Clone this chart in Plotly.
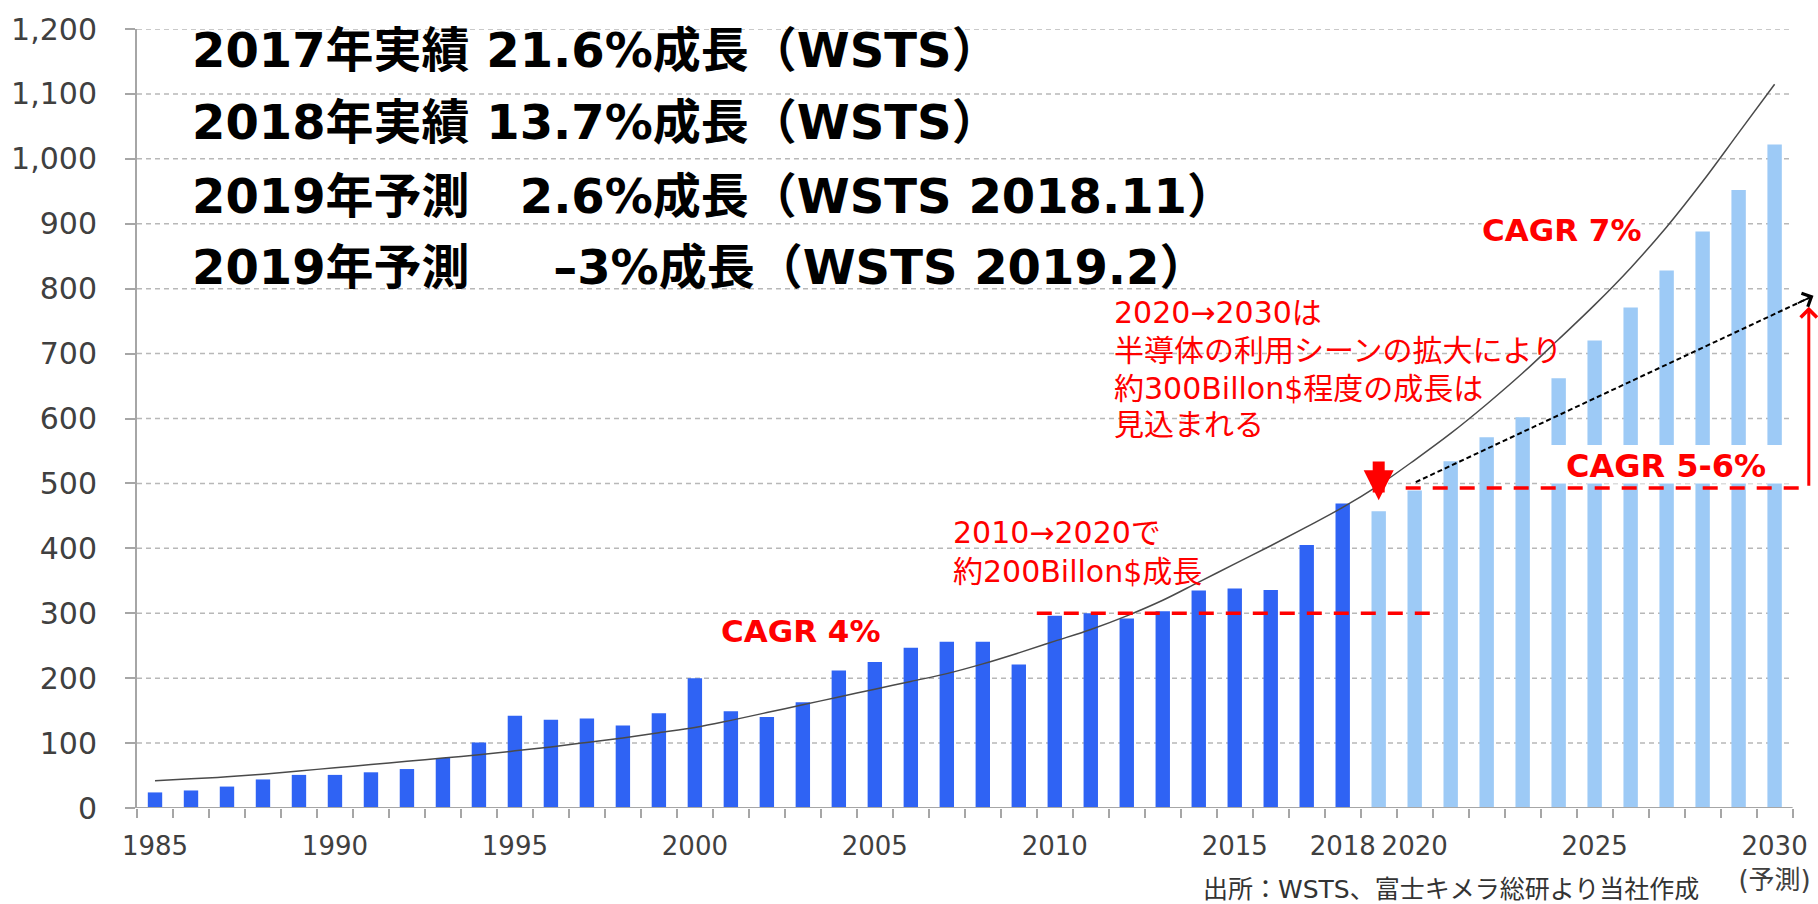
import plotly.graph_objects as go

# ---------------- data ----------------
actual_years = list(range(1985, 2019))
actual_values = [24, 27, 33, 44, 51, 51, 55, 60, 77, 101, 142, 136, 138, 127, 146,
                 200, 149, 140, 163, 212, 225, 247, 256, 256, 221, 296, 300, 292,
                 303, 335, 338, 336, 405, 469]

forecast_years = list(range(2019, 2031))
forecast_values = [457, 489, 534, 571, 602, 662, 720, 771, 828, 888, 952, 1022]

trend_years = list(range(1985, 2031))
trend_values = [42, 45, 48, 52, 57, 62, 67, 72, 77, 82, 88, 94, 101, 108, 116,
                124, 135, 147, 159, 171, 183, 195, 207, 222, 239, 257, 275, 296,
                320, 348, 376, 404, 433, 463, 497, 536, 577, 622, 670, 722, 775,
                832, 895, 965, 1040, 1115]

x_tick_years = [1985, 1990, 1995, 2000, 2005, 2010, 2015, 2018, 2020, 2025, 2030]
x_tick_labels = ["1985", "1990", "1995", "2000", "2005", "2010", "2015", "2018",
                 "2020", "2025", "2030<br>(予測)"]
y_tick_values = list(range(0, 1300, 100))

title_lines = [
    "2017年実績 21.6%成長（WSTS）",
    "2018年実績 13.7%成長（WSTS）",
    "2019年予測\u00a0\u00a0\u00a02.6%成長（WSTS 2018.11）",
    "2019年予測\u00a0\u00a0\u00a0\u00a0\u00a0–3%成長（WSTS 2019.2）",
]
note_2030 = ["2020→2030は", "半導体の利用シーンの拡大により", "約300Billon$程度の成長は", "見込まれる"]
note_2020 = ["2010→2020で", "約200Billon$成長"]
source_text = "出所：WSTS、富士キメラ総研より当社作成"

# ---------------- style ----------------
FONT = "DejaVu Sans, Noto Sans CJK JP, sans-serif"
RED = "#ff0000"
DARK_BLUE = "#2f63f4"
LIGHT_BLUE = "#9dcaf6"
GRID = "#b8b8b8"
AXIS = "#a6a6a6"

fig = go.Figure()
fig.add_trace(go.Bar(x=actual_years, y=actual_values, width=0.4,
                     marker=dict(color=DARK_BLUE, line=dict(width=0)), name="実績"))
fig.add_trace(go.Bar(x=forecast_years, y=forecast_values, width=0.4,
                     marker=dict(color=LIGHT_BLUE, line=dict(width=0)), name="予測"))
fig.add_trace(go.Scatter(x=trend_years, y=trend_values, mode="lines",
                         line=dict(color="#4a4a4a", width=1.5, shape="spline", smoothing=1.0),
                         name="trend"))

shapes = []
for v in y_tick_values[1:]:
    shapes.append(dict(type="line", xref="x", yref="y", x0=1984.5, x1=2030.5, y0=v, y1=v,
                       line=dict(color=GRID, width=1.5, dash="5px,4px"), layer="below"))
# x baseline
shapes.append(dict(type="line", xref="x", yref="y", x0=1984.5, x1=2030.5, y0=0, y1=0,
                   line=dict(color=AXIS, width=2), layer="above"))
# white box behind "CAGR 5-6%"
shapes.append(dict(type="rect", xref="x", yref="y", x0=2023.5, x1=2030.5, y0=500, y1=559,
                   fillcolor="white", line=dict(width=0), layer="above"))
# red dashed reference lines
shapes.append(dict(type="line", xref="x", yref="y", x0=2009.5, x1=2020.67, y0=300, y1=300,
                   line=dict(color=RED, width=3.5, dash="15px,12px"), layer="above"))
shapes.append(dict(type="line", xref="x", yref="y", x0=2019.75, x1=2030.86, y0=493, y1=493,
                   line=dict(color=RED, width=3.5, dash="15px,12px"), layer="above"))
# black dashed trend arrow (line part)
shapes.append(dict(type="line", xref="x", yref="y", x0=2020.03, x1=2031.0, y0=502, y1=787,
                   line=dict(color="black", width=2, dash="5px,3px"), layer="above"))

annotations = []
title_y = [1167, 1056, 942, 834]
for line, yy in zip(title_lines, title_y):
    annotations.append(dict(x=1985.96, y=yy, xref="x", yref="y", text=line, showarrow=False,
                            xanchor="left", yanchor="middle",
                            font=dict(family=FONT, size=48, color="black", weight="bold")))

para1_y = [764, 705, 646, 590]
for line, yy in zip(note_2030, para1_y):
    annotations.append(dict(x=2011.58, y=yy, xref="x", yref="y", text=line, showarrow=False,
                            xanchor="left", yanchor="middle",
                            font=dict(family=FONT, size=30, color=RED)))
para2_y = [424, 365]
for line, yy in zip(note_2020, para2_y):
    annotations.append(dict(x=2007.11, y=yy, xref="x", yref="y", text=line, showarrow=False,
                            xanchor="left", yanchor="middle",
                            font=dict(family=FONT, size=30, color=RED)))

annotations.append(dict(x=2024.07, y=890, xref="x", yref="y", text="CAGR 7%", showarrow=False,
                        xanchor="center", yanchor="middle", bgcolor="white", borderpad=0,
                        font=dict(family=FONT, size=31, color=RED, weight="bold")))
annotations.append(dict(x=2026.97, y=527, xref="x", yref="y", text="CAGR 5-6%", showarrow=False,
                        xanchor="center", yanchor="middle",
                        font=dict(family=FONT, size=32, color=RED, weight="bold")))
annotations.append(dict(x=2002.94, y=273, xref="x", yref="y", text="CAGR 4%", showarrow=False,
                        xanchor="center", yanchor="middle",
                        font=dict(family=FONT, size=31, color=RED, weight="bold")))

# thick red down arrow at 2019
annotations.append(dict(x=2019, y=474, ax=2019, ay=536, xref="x", yref="y", axref="x", ayref="y",
                        text="", showarrow=True, arrowhead=2, arrowsize=0.5, arrowwidth=12,
                        arrowcolor=RED, standoff=0))
# red vertical arrow on the right
annotations.append(dict(x=2030.95, y=772, ax=2030.95, ay=494, xref="x", yref="y", axref="x", ayref="y",
                        text="", showarrow=True, arrowhead=4, arrowsize=1.05, arrowwidth=3,
                        arrowcolor=RED, standoff=0))
# black arrowhead at end of dashed line
annotations.append(dict(x=2031.08, y=789, ax=2030.6, ay=776.5, xref="x", yref="y", axref="x", ayref="y",
                        text="", showarrow=True, arrowhead=4, arrowsize=1.6, arrowwidth=1.8,
                        arrowcolor="black", standoff=0))

annotations.append(dict(x=2021.0, y=-0.105, xref="x", yref="paper", text=source_text, showarrow=False,
                        xanchor="center", yanchor="middle",
                        font=dict(family=FONT, size=25, color="#333333")))

fig.update_layout(
    width=1818, height=904,
    margin=dict(l=137, r=2, t=29, b=96),
    paper_bgcolor="white", plot_bgcolor="white",
    showlegend=False, barmode="overlay",
    font=dict(family=FONT, color="#404040"),
    shapes=shapes, annotations=annotations,
    xaxis=dict(range=[1984.5, 2031.15], tickmode="array", tickvals=x_tick_years,
               ticktext=x_tick_labels, ticks="", showgrid=False, zeroline=False,
               showline=False, tickfont=dict(family=FONT, size=26, color="#404040"),
               ticklabelstandoff=20,
               minor=dict(tickmode="array", tickvals=[y + 0.5 for y in range(1984, 2031)],
                          ticks="outside", ticklen=9, tickwidth=1.5, tickcolor=AXIS, showgrid=False)),
    yaxis=dict(range=[0, 1200], tickmode="array", tickvals=y_tick_values, tickformat=",",
               ticks="outside", ticklen=10, tickwidth=1.5, tickcolor=AXIS,
               showgrid=False, zeroline=False, showline=True, linecolor=AXIS, linewidth=2,
               tickfont=dict(family=FONT, size=30, color="#404040"), ticklabelstandoff=22),
)

fig.write_html("out.html", config={"displayModeBar": False},
               post_script="document.body.style.margin='0';document.body.style.overflow='hidden';")
